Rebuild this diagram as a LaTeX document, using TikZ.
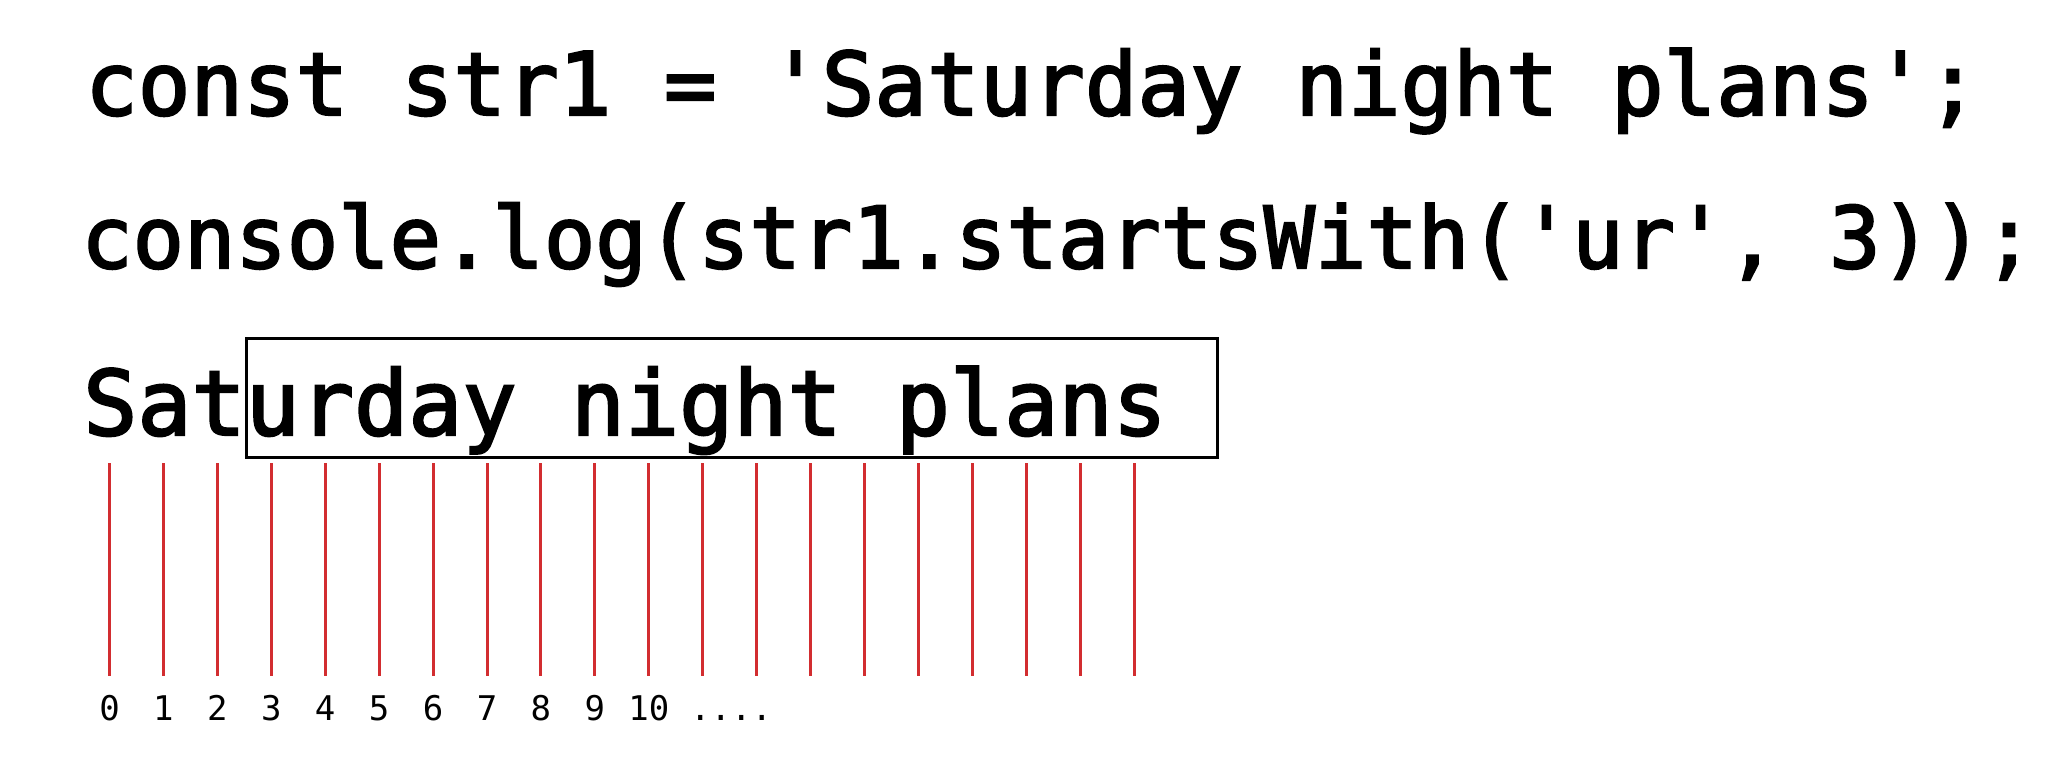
\documentclass[tikz,border=0pt]{standalone}
\usepackage{fontspec}
\newfontfamily\codefont[FakeBold=2.5]{DejaVu Sans Mono}
\newfontfamily\idxfont{DejaVu Sans Mono}
\definecolor{tickred}{RGB}{210,45,48}

\tikzset{
  code/.style={anchor=base west, inner sep=0pt, font=\codefont},
  hitbox/.style={draw, line width=3pt, inner sep=0pt, anchor=north west},
  tick/.style={draw=tickred, line width=3pt},
  idx/.style={anchor=base, inner sep=0pt, font=\idxfont\fontsize{34}{40}\selectfont}
}

\begin{document}
\begin{tikzpicture}[x=1pt, y=-1pt]
\useasboundingbox (0,0) rectangle (2068,782);

\node[code, font=\codefont\fontsize{87.4}{100}\selectfont] (decl) at (85,115) {const str1 = 'Saturday night plans';};
\node[code, font=\codefont\fontsize{85.4}{100}\selectfont] (call) at (81,268) {console.log(str1.startsWith('ur', 3));};
\node[code, font=\codefont\fontsize{90}{100}\selectfont] (str) at (83,435) {Saturday night plans};

\node[hitbox, minimum width=971pt, minimum height=119pt] (hit) at (245,337) {};

\foreach \i in {0,...,19} {
  \coordinate (top-\i) at (109.5+53.93*\i,463);
  \draw[tick] (top-\i) -- ++(0,213);
}
\foreach \i in {0,...,10} {
  \node[idx] (idx-\i) at (109.5+53.93*\i,720) {\i};
}
\node[idx, anchor=base west] (more) at (690,720) {....};
\end{tikzpicture}
\end{document}
